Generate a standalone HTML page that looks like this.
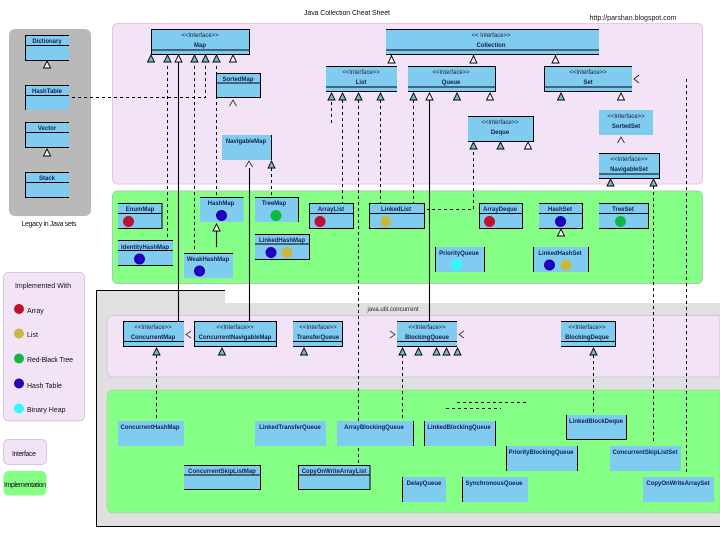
<!DOCTYPE html>
<html><head><meta charset="utf-8"><style>
html,body{margin:0;padding:0;background:#fff;width:720px;height:540px;overflow:hidden}
svg{display:block;filter:blur(.3px)}
text{font-family:"Liberation Sans",sans-serif;font-size:7px;fill:#111;text-anchor:middle}
.b{font-weight:bold;font-size:6px;fill:#10204a}
.s{font-size:6px;fill:#223}
.k{stroke:#000;stroke-width:1;fill:none}
.kk{stroke:#000;stroke-width:1.1;fill:none}
.d{stroke:#000;stroke-width:1;fill:none;stroke-dasharray:3 3}
.bx{fill:#80ccf0}
.l{text-anchor:start}
</style></head><body>
<svg width="720" height="540" viewBox="0 0 720 540" xmlns="http://www.w3.org/2000/svg">
<defs>
<polygon id="tb" points="0,0 3.500,7 -3.500,7" fill="#7ab8d0" stroke="#000" stroke-width=".9"/>
<polygon id="tw" points="0,0 3.500,7 -3.500,7" fill="#fff" stroke="#000" stroke-width=".9"/>
<polyline id="op" points="-3.500,6 0,0 3.500,6" fill="none" stroke="#222" stroke-width=".8"/>
</defs>

<!-- panels -->
<rect x="9" y="29" width="82" height="187" rx="6" fill="#b9b9b9"/>
<rect x="112.500" y="23.500" width="590" height="160.500" rx="5" fill="#f2e4f6" stroke="#e8c8d8"/>
<rect x="112.500" y="191" width="590" height="92.500" rx="5" fill="#85ff85" stroke="#a9cfa9"/>
<path d="M96.500 290.500H225V303H720V526H96.500Z" fill="#dfe0df"/>
<path d="M720 526.500H96.500V290.500H225" class="k"/>
<path d="M720 315.500H113a6 6 0 0 0-6 6V371a6 6 0 0 0 6 6H720Z" fill="#f2e4f6" stroke="#d0b8d8" stroke-width=".7"/>
<path d="M720 390H113a6 6 0 0 0-6 6V507a6 6 0 0 0 6 6H720Z" fill="#85ff85" stroke="#b0c8b0" stroke-width=".7"/>
<rect x="3.500" y="272.500" width="81" height="148.500" rx="5" fill="#f2e4f6" stroke="#c8b8d0" stroke-width=".7"/>
<rect x="3.500" y="439.500" width="43" height="25" rx="5" fill="#f2e4f6" stroke="#c8b8d0" stroke-width=".7"/>
<rect x="3.500" y="471" width="43" height="24.500" rx="5" fill="#85ff85"/>

<text x="347" y="15" textLength="86">Java Collection Cheat Sheet</text>
<text x="633" y="20" textLength="87">http://parshan.blogspot.com</text>
<text x="49" y="226" textLength="55" fill="#333">Legacy in Java sets</text>
<text x="393" y="311" textLength="51" class="s">java.util.concurrent</text>

<!-- legacy boxes -->
<g>
<rect x="25" y="35" width="44" height="25" class="bx"/><path d="M69 35.500H25.500V60.500H69M25.500 45.500H69" class="k"/>
<text class="b" x="47" y="43">Dictionary</text><use href="#tw" x="47" y="61"/>
<rect x="25" y="85" width="44" height="25" class="bx"/><path d="M69 85.500H25.500V110M25.500 95.500H69" class="k"/>
<text class="b" x="47" y="93">HashTable</text>
<rect x="25" y="122" width="44" height="25" class="bx"/><path d="M69 122.500H25.500V147.500H69M25.500 132.500H69" class="k"/>
<text class="b" x="47" y="130">Vector</text><use href="#tw" x="47" y="149"/>
<rect x="25" y="172" width="44" height="25" class="bx"/><path d="M69 172.500H25.500V197.500H69M25.500 182.500H69" class="k"/>
<text class="b" x="47" y="180">Stack</text>
</g>

<!-- connector lines -->
<g>
<path class="d" d="M167.500 66V240M194.500 66V250M205.500 66V97.500H72M216.500 66V197M271.500 168V197M331.500 102V126M342.500 100V203M358.500 100V464M380.500 100V203M413.500 100V203M473.500 152V209.500H427M653.500 186V443M686.500 79V473M156.500 355V421M402.500 355V421M593.500 355V415M457 402.500H528M446 408.500H501"/>
<path class="kk" d="M178.500 62V321M249.500 168V321M429.500 100V321M391.500 55V58M473.500 55V58M555.500 55V58M216.500 231V247"/>
</g>

<!-- interfaces top -->
<rect x="151" y="29" width="98" height="25" class="bx"/><path d="M151.500 29.500H249.500V54.500H151.500ZM151.500 50H249.500" class="k"/>
<text class="s" x="200" y="37">&lt;&lt;Interface&gt;&gt;</text><text class="b" x="200" y="47">Map</text>
<use href="#tb" x="151" y="55"/><use href="#tb" x="167.500" y="55"/><use href="#tw" x="178.500" y="55"/><use href="#tb" x="194.500" y="55"/><use href="#tb" x="205.500" y="55"/><use href="#tb" x="216.500" y="55"/><use href="#tw" x="233" y="55"/>

<rect x="386" y="29" width="213" height="25" class="bx"/><path d="M386 29.500H599M386 50H599M386 54.500H599" class="k"/>
<text class="s" x="491" y="37">&lt;&lt; Interface&gt;&gt;</text><text class="b" x="491" y="47">Collection</text>
<use href="#tw" x="391.500" y="56"/><use href="#tw" x="473.500" y="56"/><use href="#tw" x="555.500" y="56"/>

<rect x="326" y="66" width="71" height="25" class="bx"/><path d="M326 66.500H397M326 87H397M326 91.500H397" class="k"/>
<text class="s" x="361" y="74">&lt;&lt;Interface&gt;&gt;</text><text class="b" x="361" y="84">List</text>
<use href="#tb" x="331.500" y="93"/><use href="#tb" x="342.500" y="93"/><use href="#tb" x="358.500" y="93"/><use href="#tb" x="380.500" y="93"/>

<rect x="408" y="66" width="87" height="25" class="bx"/><path d="M408 66.500H495.500V91.500H408M408 87H495" class="k"/>
<text class="s" x="451" y="74">&lt;&lt;Interface&gt;&gt;</text><text class="b" x="451" y="84">Queue</text>
<use href="#tb" x="413.500" y="93"/><use href="#tw" x="429.500" y="93"/><use href="#tb" x="457" y="93"/><use href="#tw" x="490" y="93"/>

<rect x="544" y="66" width="88" height="25" class="bx"/><path d="M632 66.500H544.500V91.500H632M544.500 87H632" class="k"/>
<text class="s" x="588" y="74">&lt;&lt;Interface&gt;&gt;</text><text class="b" x="588" y="84">Set</text>
<use href="#tb" x="561" y="93"/><use href="#tw" x="621" y="93"/>
<polyline points="639,75 634,79 639,83" fill="none" stroke="#223" stroke-width=".9"/>

<rect x="468" y="116" width="65" height="25" class="bx"/><path d="M468 116.500H533.500V141.500H468" class="k"/>
<text class="s" x="500" y="124">&lt;&lt;Interface&gt;&gt;</text><text class="b" x="500" y="134">Deque</text>
<use href="#tb" x="473.500" y="142"/><use href="#tb" x="500.500" y="142"/><use href="#tw" x="528" y="142"/>

<rect x="599" y="110" width="54" height="25" class="bx"/>
<text class="s" x="626" y="118">&lt;&lt;Interface&gt;&gt;</text><text class="b" x="626" y="128">SortedSet</text>
<use href="#op" x="621" y="137"/>

<rect x="599" y="153" width="60" height="25" class="bx"/><path d="M599 153.500H659.500V178.500H599M599 174H659" class="k"/>
<text class="s" x="629" y="161">&lt;&lt;Interface&gt;&gt;</text><text class="b" x="629" y="171">NavigableSet</text>
<use href="#tb" x="610.500" y="179"/><use href="#tb" x="653.500" y="179"/>

<rect x="216" y="73" width="44" height="24" class="bx"/><path d="M216.500 97V73.500H260.500V97.500H216.500M216.500 83H260" class="k"/>
<text class="b" x="238" y="81">SortedMap</text><use href="#op" x="233" y="100"/>

<rect x="222" y="135" width="49" height="25" class="bx"/><path d="M271.500 135V160" class="k"/>
<text class="b" x="246" y="143">NavigableMap</text>
<use href="#op" x="249" y="161"/><use href="#tb" x="271.500" y="161"/>

<!-- green collection -->
<rect x="118" y="203" width="44" height="25" class="bx"/><path d="M118 203.500H162V228.500H118M118 213.500H162" class="k"/>
<text class="b" x="140" y="211">EnumMap</text><circle cx="128.500" cy="221.500" r="5.500" fill="#c0102c"/>

<rect x="200" y="197" width="43.500" height="25" class="bx"/><path d="M200 197.500H243.500" class="k"/>
<text class="b" x="221" y="205">HashMap</text><circle cx="221.500" cy="215.500" r="5.500" fill="#2000b8"/>
<use href="#tw" x="216.500" y="224"/>

<rect x="255" y="197" width="43" height="25" class="bx"/><path d="M255 197.500H298.500V222" class="k"/>
<text class="b" x="274" y="205">TreeMap</text><circle cx="276" cy="215.500" r="5.500" fill="#10b840"/>

<rect x="309" y="203" width="44" height="25" class="bx"/><path d="M309.500 203.500H353.500V228.500H309.500ZM309.500 213.500H353" class="k"/>
<text class="b" x="331" y="211">ArrayList</text><circle cx="320" cy="221.500" r="5.500" fill="#c0102c"/>

<rect x="118" y="240" width="55" height="25" class="bx"/><path d="M118 240.500H173M118 250.500H173M118 265.500H173" class="k"/>
<text class="b" x="145" y="249">IdentityHashMap</text><circle cx="139.500" cy="259" r="5.500" fill="#2000b8"/>

<rect x="184" y="253" width="49" height="25" class="bx"/><path d="M184 253.500H233" class="k"/>
<text class="b" x="208" y="261">WeakHashMap</text><circle cx="199.500" cy="271" r="5.500" fill="#2000b8"/>

<rect x="255" y="234" width="54" height="25" class="bx"/><path d="M255 234.500H309.500V259.500H255M255 244H309" class="k"/>
<text class="b" x="282" y="242">LinkedHashMap</text>
<circle cx="271" cy="252.500" r="5.500" fill="#2000b8"/><circle cx="287" cy="252.500" r="5.500" fill="#c8b840"/>

<rect x="369" y="203" width="56" height="25" class="bx"/><path d="M369.500 203.500H424.500V228.500H369.500ZM369.500 213.500H424" class="k"/>
<text class="b" x="396" y="211">LinkedList</text><circle cx="385.500" cy="221.500" r="5.500" fill="#c8b840"/>

<rect x="479" y="203" width="43" height="25" class="bx"/><path d="M479.500 203.500H522.500V228.500H479.500ZM479.500 213.500H522" class="k"/>
<text class="b" x="500" y="211">ArrayDeque</text><circle cx="489.500" cy="221.500" r="5.500" fill="#c0102c"/>

<rect x="539" y="203" width="43" height="25" class="bx"/><path d="M539 203.500H582.500M539 213.500H582M539 228.500H582.500V203" class="k"/>
<text class="b" x="560" y="211">HashSet</text><circle cx="560.500" cy="221.500" r="5.500" fill="#2000b8"/>
<use href="#tw" x="561" y="229"/>

<rect x="599" y="203" width="49" height="25" class="bx"/><path d="M599 203.500H648.500V228.500H599M599 213.500H648" class="k"/>
<text class="b" x="623" y="211">TreeSet</text><circle cx="620.500" cy="221.500" r="5.500" fill="#10b840"/>

<rect x="435" y="247" width="49" height="25" class="bx"/><path d="M435.500 247V272M484.500 247V272" class="k"/>
<text class="b" x="459" y="255">PriorityQueue</text><circle cx="456.500" cy="265" r="5.500" fill="#30f8ff"/>

<rect x="533" y="247" width="55" height="25" class="bx"/><path d="M533.500 247V272M588.500 247V272" class="k"/>
<text class="b" x="560" y="255">LinkedHashSet</text>
<circle cx="549.500" cy="265" r="5.500" fill="#2000b8"/><circle cx="566" cy="265" r="5.500" fill="#c8b840"/>

<!-- concurrent interfaces -->
<rect x="123" y="321" width="61" height="25" class="bx"/><path d="M184 321.500H123.500V346.500H184M123.500 341.500H184" class="k"/>
<text class="s" x="153" y="329">&lt;&lt;Interface&gt;&gt;</text><text class="b" x="153" y="339">ConcurrentMap</text>
<use href="#tb" x="156.500" y="348"/>
<polyline points="191,331 186,334.500 191,338" fill="none" stroke="#333" stroke-width=".8"/>

<rect x="194" y="321" width="82" height="25" class="bx"/><path d="M194.500 321.500H276.500V346.500H194.500ZM194.500 341.500H276" class="k"/>
<text class="s" x="235" y="329">&lt;&lt;Interface&gt;&gt;</text><text class="b" x="235" y="339">ConcurrentNavigableMap</text>
<use href="#tb" x="222" y="348"/>

<rect x="293" y="321" width="49" height="25" class="bx"/><path d="M293 321.500H342.500V346.500H293M293 341.500H342" class="k"/>
<text class="s" x="318" y="329">&lt;&lt;Interface&gt;&gt;</text><text class="b" x="318" y="339">TransferQueue</text>
<use href="#tb" x="304" y="348"/>

<rect x="397" y="321" width="60" height="25" class="bx"/><path d="M397 321.500H457M397 341.500H457M397 346.500H457" class="k"/>
<text class="s" x="427" y="329">&lt;&lt;Interface&gt;&gt;</text><text class="b" x="427" y="339">BlockingQueue</text>
<use href="#tb" x="402.500" y="348"/><use href="#tb" x="418.500" y="348"/><use href="#tb" x="436.500" y="348"/><use href="#tb" x="446.500" y="348"/><use href="#tb" x="457.500" y="348"/>
<polyline points="390,331 395,334.500 390,338" fill="none" stroke="#333" stroke-width=".8"/>
<polyline points="464,331 459,334.500 464,338" fill="none" stroke="#333" stroke-width=".8"/>

<rect x="561" y="321" width="54" height="25" class="bx"/><path d="M561 321.500H615.500V346.500H561M561 341.500H615" class="k"/>
<text class="s" x="587" y="329">&lt;&lt;Interface&gt;&gt;</text><text class="b" x="587" y="339">BlockingDeque</text>
<use href="#tb" x="593.500" y="348"/>

<!-- concurrent impls -->
<rect x="118" y="421" width="66" height="25" class="bx"/><text class="b" x="150" y="429">ConcurrentHashMap</text>
<rect x="255" y="421" width="71" height="25" class="bx"/><text class="b" x="290" y="429">LinkedTransferQueue</text>
<rect x="337" y="421" width="76" height="25" class="bx"/><path d="M413.500 421V446" class="k"/><text class="b" x="374" y="429">ArrayBlockingQueue</text>
<rect x="424" y="421" width="71" height="25" class="bx"/><path d="M424.500 421V446M495.500 421V446" class="k"/><text class="b" x="459" y="429">LinkedBlockingQueue</text>
<rect x="566" y="415" width="61" height="25" class="bx"/><path d="M566.500 415V439.500H626.500V415" class="k"/><text class="b" x="596" y="423">LinkedBlockDeque</text>
<rect x="506" y="446" width="71" height="25" class="bx"/><path d="M506.500 446V471M577.500 446V471" class="k"/><text class="b" x="541" y="454">PriorityBlockingQueue</text>
<rect x="610" y="446" width="71" height="25" class="bx"/><text class="b" x="645" y="454">ConcurrentSkipListSet</text>
<rect x="643" y="477" width="71" height="25" class="bx"/><text class="b" x="678" y="485">CopyOnWriteArraySet</text>
<rect x="402" y="477" width="44" height="25" class="bx"/><path d="M402.500 477V502" class="k"/><text class="b" x="424" y="485">DelayQueue</text>
<rect x="462" y="477" width="66" height="25" class="bx"/><path d="M462.500 477V502" class="k"/><text class="b" x="494" y="485">SynchronousQueue</text>
<rect x="184" y="465" width="76" height="25" class="bx"/><path d="M184 465.500H260.500V489.500H184M184 475H260" class="k"/><text class="b" x="222" y="473">ConcurrentSkipListMap</text>
<rect x="298" y="465" width="72" height="25" class="bx"/><path d="M298.500 465.500H370V489.500H298.500ZM298.500 475H370" class="k"/><text class="b" x="334" y="473">CopyOnWriteArrayList</text>

<!-- legend -->
<text x="43" y="288" textLength="56">Implemented With</text>
<circle cx="19" cy="309" r="5" fill="#c0102c"/><text class="l" x="27" y="313">Array</text>
<circle cx="19" cy="333.500" r="5" fill="#c8b840"/><text class="l" x="27" y="337">List</text>
<circle cx="19" cy="358.500" r="5" fill="#10b840"/><text class="l" x="27" y="362" textLength="46">Red-Black Tree</text>
<circle cx="19" cy="383.500" r="5" fill="#2000b8"/><text class="l" x="27" y="388">Hash Table</text>
<circle cx="19" cy="408.500" r="5" fill="#30f8ff"/><text class="l" x="27" y="412">Binary Heap</text>
<text x="24" y="456" textLength="24">Interface</text>
<text x="25" y="487" textLength="42">Implementation</text>
</svg>
</body></html>
